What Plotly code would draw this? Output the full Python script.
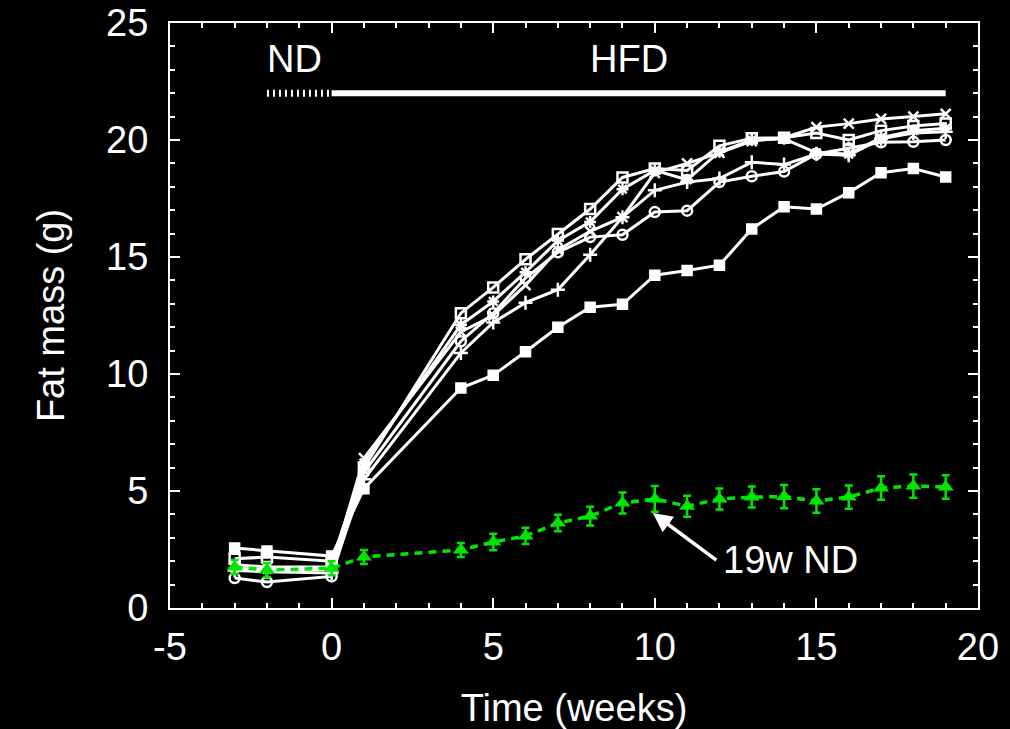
import plotly.graph_objects as go

# Measurement weeks (negative = normal-diet run-in before the switch)
weeks = [-3, -2, 0, 1, 4, 5, 6, 7, 8, 9, 10, 11, 12, 13, 14, 15, 16, 17, 18, 19]

# Fat mass (g) of individual HFD mice
hfd_sq_filled = [2.56, 2.44, 2.22, 5.1, 9.4, 9.95, 10.95, 12.0, 12.85, 12.98, 14.22, 14.42, 14.65, 16.2, 17.15, 17.05, 17.75, 18.6, 18.78, 18.42]
hfd_sq_open = [2.1, 2.18, 2.0, 6.0, 12.6, 13.7, 14.9, 15.98, 17.05, 18.4, 18.78, 18.7, 19.75, 20.08, 20.1, 20.3, 20.0, 20.4, 20.6, 20.7]
hfd_cross = [1.85, 1.75, 1.75, 6.4, 11.8, 12.5, 13.8, 15.3, 16.1, 16.7, 18.6, 19.0, 19.45, 19.95, 20.1, 20.55, 20.7, 20.9, 21.0, 21.12]
hfd_star = [1.7, 1.65, 1.65, 6.2, 12.1, 13.1, 14.35, 15.7, 16.5, 17.9, 18.7, 18.3, 19.5, 20.0, 20.05, 19.45, 19.4, 20.1, 20.4, 20.5]
hfd_plus = [1.6, 1.55, 1.5, 5.5, 10.9, 12.2, 13.05, 13.6, 15.1, 16.7, 17.85, 18.2, 18.35, 19.05, 18.95, 19.4, 19.35, 20.05, 20.3, 20.35]
hfd_circle = [1.28, 1.11, 1.35, 5.8, 11.4, 12.6, 14.1, 15.2, 15.85, 15.95, 16.92, 16.98, 18.2, 18.45, 18.65, 19.4, 19.65, 19.9, 19.92, 20.0]

# Normal-diet control group: mean and error
nd_mean = [1.75, 1.62, 1.7, 2.18, 2.48, 2.82, 3.08, 3.63, 3.93, 4.49, 4.66, 4.35, 4.66, 4.74, 4.76, 4.57, 4.74, 5.13, 5.21, 5.17]
nd_err = [0.3, 0.3, 0.3, 0.3, 0.3, 0.35, 0.35, 0.35, 0.4, 0.45, 0.55, 0.45, 0.45, 0.45, 0.5, 0.5, 0.5, 0.5, 0.5, 0.5]

# Axis ticks
x_ticks = [-5, 0, 5, 10, 15, 20]
x_tick_labels = ["-5", "0", "5", "10", "15", "20"]
y_ticks = [0, 5, 10, 15, 20, 25]
y_tick_labels = ["0", "5", "10", "15", "20", "25"]

# Diet period bar
nd_period = [-2, 0]
hfd_period = [0, 19]
bar_level = 22

FONT = "Liberation Sans, Arial, Helvetica, sans-serif"
FS = 38
WHITE = "#ffffff"
GREEN = "#00e600"

fig = go.Figure()

hfd_series = [
    (hfd_sq_filled, "square", 9),
    (hfd_sq_open, "square-open", 10),
    (hfd_cross, "x-thin-open", 10),
    (hfd_star, "asterisk-open", 10),
    (hfd_plus, "cross-thin-open", 10),
    (hfd_circle, "circle-open", 10),
]
for vals, sym, size in hfd_series:
    fig.add_trace(go.Scatter(
        x=weeks, y=vals, mode="lines+markers",
        line=dict(color=WHITE, width=3),
        marker=dict(symbol=sym, size=size, color=WHITE,
                    line=dict(color=WHITE, width=2.5)),
        showlegend=False,
    ))

fig.add_trace(go.Scatter(
    x=weeks, y=nd_mean, mode="lines+markers",
    line=dict(color=GREEN, width=3.5, dash="8px,6px"),
    marker=dict(symbol="triangle-up", size=14, color=GREEN),
    error_y=dict(type="data", array=nd_err, color=GREEN, thickness=2.5, width=4),
    showlegend=False,
))

# Diet period indicator
fig.add_trace(go.Scatter(
    x=nd_period, y=[bar_level, bar_level], mode="lines",
    line=dict(color=WHITE, width=7, dash="2px,4px"), showlegend=False,
))
fig.add_trace(go.Scatter(
    x=hfd_period, y=[bar_level, bar_level], mode="lines",
    line=dict(color=WHITE, width=6), showlegend=False,
))

fig.add_annotation(x=-1.15, y=23.45, text="ND", showarrow=False,
                   font=dict(family=FONT, size=FS, color=WHITE))
fig.add_annotation(x=9.2, y=23.45, text="HFD", showarrow=False,
                   font=dict(family=FONT, size=FS, color=WHITE))

# Arrow pointing at the ND control curve
fig.add_annotation(x=9.94, y=4.06, ax=11.95, ay=2.0, axref="x", ayref="y",
                   text="", showarrow=True, arrowhead=2, arrowsize=1.1,
                   arrowwidth=3.5, arrowcolor=WHITE)
fig.add_annotation(x=12.05, y=2.05, text="19w ND", showarrow=False,
                   xanchor="left", font=dict(family=FONT, size=FS, color=WHITE))

axis_common = dict(
    showgrid=False, zeroline=False, automargin=False,
    showline=True, linecolor=WHITE, linewidth=2, mirror="allticks",
    ticks="inside", ticklen=10, tickwidth=2, tickcolor=WHITE,
    tickfont=dict(family=FONT, size=FS, color=WHITE),
    minor=dict(dtick=1, ticks="inside", ticklen=5, tickwidth=1.5, tickcolor=WHITE),
)

fig.update_xaxes(range=[-5, 20], tickmode="array", tickvals=x_ticks, ticktext=x_tick_labels,
                 ticklabelstandoff=4,
                 title=dict(text="Time (weeks)", font=dict(family=FONT, size=FS, color=WHITE), standoff=28),
                 **axis_common)
fig.update_yaxes(range=[0, 25], tickmode="array", tickvals=y_ticks, ticktext=y_tick_labels,
                 ticklabelstandoff=12,
                 title=dict(text="Fat mass (g)", font=dict(family=FONT, size=FS, color=WHITE), standoff=30),
                 **axis_common)

fig.update_layout(
    width=1010, height=729,
    paper_bgcolor="black", plot_bgcolor="black",
    margin=dict(l=170, r=32, t=23, b=121),
    font=dict(family=FONT, color=WHITE),
)

fig.write_html("out.html")
